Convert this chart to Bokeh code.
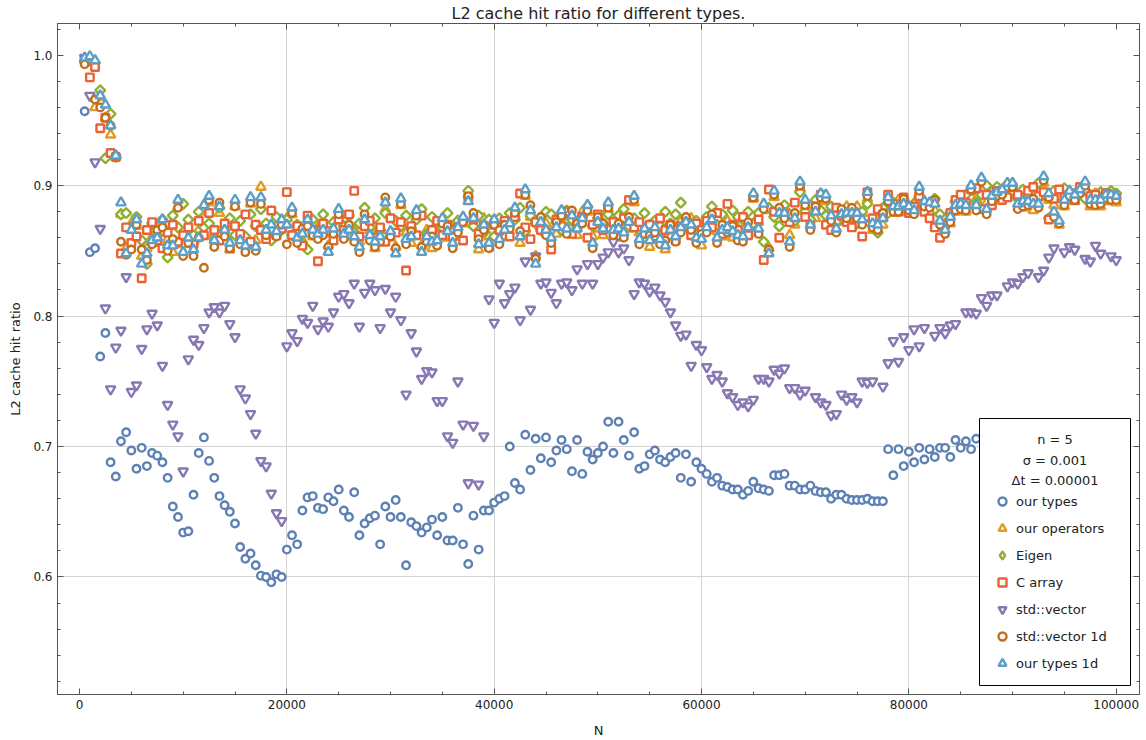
import math

from bokeh.plotting import figure
from bokeh.models import (Range1d, FixedTicker, LinearAxis, Legend, LegendItem,
                          BoxAnnotation, Label)
from bokeh.embed import file_html
from bokeh.resources import INLINE

nan = float("nan")

# problem sizes shared by every series
n_values = list(range(500, 100001, 500))

our_types = [
    0.957, 0.849, 0.852, 0.769, 0.787, 0.688, 0.677, 0.704, 0.711, 0.697,
    0.683, 0.699, 0.685, 0.695, 0.693, 0.688, 0.676, 0.654, 0.646, 0.634,
    0.635, 0.663, 0.695, 0.707, 0.689, 0.676, 0.662, 0.655, 0.650, 0.641,
    0.623, 0.614, 0.618, 0.609, 0.601, 0.600, 0.596, 0.602, 0.600, 0.621,
    0.632, 0.625, 0.651, 0.661, 0.662, 0.653, 0.652, 0.661, 0.658, 0.667,
    0.651, 0.646, 0.665, 0.632, 0.641, 0.645, 0.647, 0.625, 0.654, 0.646,
    0.659, 0.646, 0.609, 0.642, 0.639, 0.634, 0.638, 0.644, 0.632, 0.646,
    0.628, 0.628, 0.653, 0.625, 0.610, 0.647, 0.621, 0.651, 0.651, 0.657,
    0.660, 0.662, 0.700, 0.672, 0.667, 0.709, 0.682, 0.706, 0.691, 0.707,
    0.688, 0.697, 0.705, 0.698, 0.681, 0.705, 0.679, 0.696, 0.690, 0.695,
    0.700, 0.719, 0.695, 0.719, 0.705, 0.693, 0.711, 0.683, 0.685, 0.694,
    0.697, 0.690, 0.688, 0.692, 0.695, 0.676, 0.694, 0.673, 0.688, 0.683,
    0.679, 0.673, 0.676, 0.670, 0.669, 0.667, 0.667, 0.663, 0.666, 0.673,
    0.668, 0.667, 0.666, 0.678, 0.678, 0.679, 0.670, 0.670, 0.667, 0.667,
    0.670, 0.666, 0.665, 0.665, 0.660, 0.663, 0.663, 0.660, 0.659, 0.659,
    0.659, 0.660, 0.658, 0.658, 0.658, 0.698, 0.678, 0.698, 0.685, 0.696,
    0.688, 0.699, 0.690, 0.698, 0.692, 0.699, 0.699, 0.692, 0.705, 0.699,
    0.704, 0.698, 0.706,
]

our_operators = [
    0.996, 0.997, 0.960, 0.968, 0.952, 0.939, 0.922, 0.878, 0.852, 0.871,
    0.869, 0.846, 0.852, 0.861, 0.856, 0.870, 0.859, 0.849, 0.884, 0.855,
    0.864, 0.857, 0.866, 0.880, 0.887, 0.863, 0.879, 0.870, 0.851, 0.884,
    0.862, 0.858, 0.886, 0.858, 0.899, 0.870, 0.865, 0.869, 0.869, 0.875,
    0.878, 0.864, 0.858, 0.870, 0.861, 0.868, 0.870, 0.854, 0.863, 0.877,
    0.868, 0.861, 0.866, 0.857, 0.869, 0.866, 0.852, 0.866, 0.882, 0.860,
    0.853, 0.885, 0.864, 0.856, 0.876, 0.854, 0.866, 0.852, 0.862, 0.870,
    0.860, 0.861, 0.873, 0.871, 0.893, 0.870, 0.851, 0.875, 0.861, 0.869,
    0.864, 0.861, 0.876, 0.878, 0.856, 0.892, 0.876, 0.846, 0.867, 0.871,
    0.865, 0.863, 0.876, 0.872, 0.872, 0.862, 0.880, 0.880, 0.861, 0.867,
    0.862, 0.882, 0.871, 0.862, 0.869, 0.867, 0.887, 0.864, 0.862, 0.853,
    0.863, 0.864, 0.851, 0.861, 0.866, 0.873, 0.867, 0.875, 0.865, 0.854,
    0.873, 0.869, 0.865, 0.861, 0.873, 0.860, 0.867, 0.866, 0.863, 0.890,
    0.872, 0.881, 0.852, 0.891, 0.874, 0.884, 0.862, 0.870, 0.898, 0.884,
    0.875, 0.875, 0.889, 0.888, 0.882, 0.872, 0.873, 0.884, 0.874, 0.884,
    0.879, 0.890, 0.866, 0.875, 0.870, 0.886, 0.879, 0.889, 0.881, 0.879,
    0.886, 0.894, 0.883, 0.882, 0.881, 0.868, 0.871, 0.871, 0.880, 0.891,
    0.880, 0.895, 0.890, 0.901, 0.887, 0.887, 0.890, 0.892, 0.897, 0.897,
    0.891, 0.883, 0.893, 0.881, 0.891, 0.902, 0.889, 0.885, 0.870, 0.884,
    0.891, 0.888, 0.892, 0.898, 0.884, 0.894, 0.884, 0.888, 0.888, 0.887,
]

eigen = [
    0.995, 0.996, 0.994, 0.973, 0.921, 0.955, 0.922, 0.878, 0.879, 0.868,
    0.876, 0.858, 0.840, 0.871, 0.862, 0.874, 0.845, 0.877, 0.868, 0.886,
    0.874, 0.862, 0.880, 0.868, 0.871, 0.859, 0.883, 0.866, 0.875, 0.862,
    0.873, 0.861, 0.878, 0.869, 0.882, 0.871, 0.858, 0.876, 0.866, 0.874,
    0.862, 0.870, 0.856, 0.851, 0.874, 0.866, 0.878, 0.869, 0.872, 0.880,
    0.869, 0.877, 0.864, 0.871, 0.883, 0.868, 0.875, 0.866, 0.879, 0.862,
    0.873, 0.869, 0.877, 0.867, 0.874, 0.882, 0.863, 0.876, 0.870, 0.868,
    0.879, 0.866, 0.873, 0.874, 0.896, 0.869, 0.877, 0.865, 0.874, 0.861,
    0.875, 0.868, 0.879, 0.874, 0.883, 0.865, 0.877, 0.871, 0.866, 0.880,
    0.878, 0.872, 0.866, 0.881, 0.874, 0.868, 0.876, 0.884, 0.869, 0.875,
    0.871, 0.878, 0.870, 0.877, 0.882, 0.869, 0.875, 0.866, 0.879, 0.870,
    0.873, 0.869, 0.880, 0.871, 0.878, 0.887, 0.875, 0.866, 0.873, 0.868,
    0.876, 0.884, 0.870, 0.878, 0.868, 0.881, 0.876, 0.874, 0.880, 0.871,
    0.879, 0.857, 0.883, 0.876, 0.869, 0.885, 0.878, 0.873, 0.895, 0.880,
    0.874, 0.889, 0.881, 0.877, 0.884, 0.872, 0.880, 0.876, 0.882, 0.871,
    0.880, 0.886, 0.873, 0.864, 0.883, 0.879, 0.887, 0.884, 0.889, 0.882,
    0.886, 0.891, 0.884, 0.879, 0.890, 0.878, 0.870, 0.879, 0.888, 0.884,
    0.893, 0.897, 0.887, 0.893, 0.900, 0.895, 0.899, 0.890, 0.901, 0.896,
    0.891, 0.897, 0.893, 0.888, 0.902, 0.893, 0.875, 0.896, 0.892, 0.898,
    0.895, 0.894, 0.897, 0.890, 0.893, 0.891, 0.895, 0.894, 0.896, 0.894,
]

c_array = [
    0.997, 0.983, 0.991, 0.944, 0.952, 0.925, 0.922, 0.848, 0.868, 0.856,
    0.861, 0.829, 0.866, 0.872, 0.858, 0.852, 0.864, 0.870, 0.857, 0.862,
    0.868, 0.855, 0.873, 0.862, 0.879, 0.866, 0.858, 0.871, 0.852, 0.869,
    0.863, 0.878, 0.857, 0.870, 0.866, 0.859, 0.881, 0.862, 0.867, 0.895,
    0.862, 0.869, 0.854, 0.877, 0.866, 0.842, 0.871, 0.865, 0.858, 0.874,
    0.866, 0.878, 0.896, 0.861, 0.869, 0.873, 0.860, 0.868, 0.857, 0.875,
    0.864, 0.872, 0.835, 0.869, 0.862, 0.877, 0.859, 0.866, 0.873, 0.862,
    0.870, 0.861, 0.868, 0.858, 0.891, 0.874, 0.863, 0.869, 0.853, 0.871,
    0.866, 0.873, 0.861, 0.876, 0.894, 0.868, 0.859, 0.872, 0.866, 0.864,
    0.851, 0.874, 0.869, 0.880, 0.863, 0.872, 0.876, 0.860, 0.870, 0.878,
    0.866, 0.884, 0.872, 0.861, 0.875, 0.889, 0.868, 0.872, 0.864, 0.870,
    0.861, 0.875, 0.866, 0.870, 0.858, 0.869, 0.874, 0.862, 0.871, 0.866,
    0.873, 0.868, 0.879, 0.863, 0.886, 0.870, 0.866, 0.876, 0.862, 0.891,
    0.874, 0.843, 0.897, 0.880, 0.860, 0.878, 0.872, 0.887, 0.900, 0.876,
    0.869, 0.884, 0.893, 0.870, 0.866, 0.883, 0.877, 0.872, 0.868, 0.875,
    0.861, 0.895, 0.875, 0.882, 0.878, 0.893, 0.886, 0.880, 0.891, 0.879,
    0.884, 0.892, 0.880, 0.875, 0.868, 0.860, 0.870, 0.879, 0.889, 0.893,
    0.887, 0.897, 0.898, 0.882, 0.893, 0.885, 0.896, 0.889, 0.891, 0.899,
    0.893, 0.887, 0.896, 0.899, 0.892, 0.895, 0.874, 0.890, 0.897, 0.891,
    0.893, 0.889, 0.899, 0.896, 0.892, 0.893, 0.889, 0.894, 0.891, 0.890,
]

std_vector = [
    0.998, 0.969, 0.918, 0.867, 0.806, 0.744, 0.776, 0.789, 0.830, 0.742,
    0.747, 0.775, 0.790, 0.802, 0.793, 0.762, 0.732, 0.717, 0.708, 0.681,
    0.767, 0.782, 0.778, 0.791, 0.803, 0.807, 0.803, 0.808, 0.794, 0.784,
    0.744, 0.737, 0.725, 0.710, 0.689, 0.685, 0.664, 0.649, 0.643, 0.777,
    0.787, 0.781, 0.798, 0.795, 0.808, 0.790, 0.796, 0.792, 0.803, 0.815,
    0.817, 0.810, 0.825, 0.792, 0.818, 0.825, 0.820, 0.791, 0.821, 0.803,
    0.815, 0.797, 0.740, 0.787, 0.773, 0.752, 0.758, 0.757, 0.735, 0.735,
    0.708, 0.703, 0.750, 0.717, 0.672, 0.716, 0.671, 0.708, 0.813, 0.795,
    0.825, 0.810, 0.817, 0.822, 0.797, 0.842, 0.805, 0.846, 0.825, 0.826,
    0.818, 0.810, 0.825, 0.826, 0.820, 0.836, 0.825, 0.840, 0.825, 0.840,
    0.845, 0.849, 0.857, 0.849, 0.852, 0.843, 0.817, 0.826, 0.825, 0.819,
    0.822, 0.816, 0.811, 0.803, 0.793, 0.785, 0.786, 0.762, 0.778, 0.774,
    0.761, 0.752, 0.755, 0.750, 0.741, 0.738, 0.732, 0.734, 0.731, 0.736,
    0.752, 0.752, 0.750, 0.759, 0.756, 0.760, 0.745, 0.745, 0.740, 0.743,
    nan, 0.738, 0.734, 0.732, 0.724, 0.725, 0.740, 0.736, 0.738, 0.734,
    0.750, 0.749, 0.750, nan, 0.746, 0.764, 0.781, 0.765, 0.784, 0.774,
    0.790, 0.777, 0.791, nan, 0.785, 0.791, 0.787, 0.793, 0.794, nan,
    0.803, 0.803, 0.802, 0.814, 0.808, 0.816, 0.816, nan, 0.823, 0.826,
    0.825, 0.830, 0.833, nan, 0.830, 0.835, 0.845, 0.852, nan, 0.849,
    0.853, 0.851, nan, 0.844, 0.842, 0.854, 0.848, nan, 0.846, 0.843,
]

std_vector_1d = [
    0.993, 0.997, 0.966, 0.960, 0.952, 0.946, 0.923, 0.857, 0.847, 0.851,
    0.870, 0.851, 0.843, 0.855, 0.866, 0.868, 0.850, 0.859, 0.883, 0.846,
    0.856, 0.846, 0.860, 0.837, 0.889, 0.853, 0.887, 0.861, 0.852, 0.884,
    0.855, 0.849, 0.887, 0.850, 0.886, 0.862, 0.866, 0.861, 0.870, 0.855,
    0.879, 0.856, 0.867, 0.869, 0.862, 0.859, 0.862, 0.853, 0.863, 0.878,
    0.859, 0.870, 0.857, 0.849, 0.878, 0.858, 0.853, 0.857, 0.891, 0.861,
    0.852, 0.886, 0.855, 0.865, 0.877, 0.853, 0.857, 0.861, 0.854, 0.871,
    0.869, 0.852, 0.864, 0.872, 0.892, 0.879, 0.859, 0.866, 0.852, 0.870,
    0.855, 0.870, 0.867, 0.879, 0.865, 0.893, 0.885, 0.844, 0.876, 0.862,
    0.856, 0.872, 0.877, 0.863, 0.881, 0.871, 0.871, 0.881, 0.852, 0.876,
    0.871, 0.883, 0.862, 0.871, 0.860, 0.876, 0.889, 0.855, 0.863, 0.862,
    0.864, 0.855, 0.858, 0.870, 0.857, 0.864, 0.876, 0.866, 0.856, 0.863,
    0.864, 0.878, 0.856, 0.870, 0.864, 0.869, 0.858, 0.857, 0.872, 0.891,
    0.863, 0.882, 0.851, 0.893, 0.883, 0.875, 0.853, 0.879, 0.900, 0.885,
    0.866, 0.884, 0.891, 0.890, 0.873, 0.864, 0.882, 0.875, 0.883, 0.875,
    0.870, 0.892, 0.868, 0.866, 0.879, 0.888, 0.880, 0.880, 0.890, 0.881,
    0.878, 0.896, 0.884, 0.883, 0.889, 0.870, 0.863, 0.872, 0.881, 0.882,
    0.881, 0.897, 0.881, 0.903, 0.878, 0.888, 0.892, 0.893, 0.899, 0.899,
    0.882, 0.884, 0.885, 0.890, 0.883, 0.904, 0.891, 0.876, 0.871, 0.885,
    0.892, 0.889, 0.894, 0.900, 0.886, 0.885, 0.886, 0.890, 0.889, 0.889,
]

our_types_1d = [
    0.998, 0.999, 0.996, 0.969, 0.962, 0.946, 0.923, 0.887, 0.848, 0.866,
    0.874, 0.840, 0.848, 0.858, 0.860, 0.874, 0.854, 0.854, 0.889, 0.849,
    0.860, 0.851, 0.860, 0.885, 0.892, 0.858, 0.884, 0.866, 0.856, 0.889,
    0.858, 0.854, 0.891, 0.853, 0.891, 0.866, 0.870, 0.865, 0.874, 0.870,
    0.883, 0.860, 0.863, 0.874, 0.866, 0.863, 0.866, 0.849, 0.867, 0.882,
    0.863, 0.866, 0.861, 0.853, 0.874, 0.862, 0.857, 0.861, 0.887, 0.865,
    0.848, 0.890, 0.859, 0.861, 0.881, 0.849, 0.861, 0.857, 0.858, 0.875,
    0.865, 0.856, 0.868, 0.876, 0.888, 0.875, 0.855, 0.870, 0.856, 0.874,
    0.859, 0.866, 0.871, 0.883, 0.861, 0.897, 0.881, 0.840, 0.872, 0.866,
    0.860, 0.868, 0.881, 0.867, 0.877, 0.867, 0.875, 0.885, 0.856, 0.872,
    0.867, 0.887, 0.866, 0.867, 0.864, 0.872, 0.892, 0.859, 0.867, 0.858,
    0.868, 0.859, 0.854, 0.866, 0.861, 0.868, 0.872, 0.870, 0.860, 0.859,
    0.868, 0.874, 0.860, 0.866, 0.868, 0.865, 0.862, 0.861, 0.868, 0.894,
    0.867, 0.886, 0.848, 0.896, 0.879, 0.879, 0.857, 0.875, 0.903, 0.889,
    0.870, 0.880, 0.894, 0.893, 0.877, 0.867, 0.878, 0.879, 0.879, 0.879,
    0.874, 0.895, 0.871, 0.870, 0.875, 0.891, 0.884, 0.884, 0.886, 0.884,
    0.881, 0.899, 0.888, 0.887, 0.886, 0.873, 0.866, 0.876, 0.885, 0.886,
    0.885, 0.900, 0.885, 0.906, 0.882, 0.892, 0.895, 0.897, 0.902, 0.902,
    0.886, 0.888, 0.888, 0.886, 0.886, 0.907, 0.894, 0.880, 0.873, 0.889,
    0.896, 0.893, 0.897, 0.903, 0.889, 0.889, 0.889, 0.893, 0.893, 0.892,
]

x_major = [0, 20000, 40000, 60000, 80000, 100000]
x_minor = list(range(0, 100001, 5000))
y_major = [0.6, 0.7, 0.8, 0.9, 1.0]
y_minor = [round(0.52 + 0.02 * i, 2) for i in range(26)]
x_grid = [20000, 40000, 60000, 80000]
y_grid = [0.6, 0.7, 0.8, 0.9]

legend_header = ["n = 5", "σ = 0.001", "Δt = 0.00001"]

FONT = "DejaVu Sans"
FRAME = "#555555"
TEXT = "#222222"

# label, values, marker, colour, size, angle, marker used for the legend key
series = [
    ("our types", our_types, "circle", "#5E81B5", 7.5, 0.0, "circle"),
    ("our operators", our_operators, "triangle", "#E19C24", 9.5, 0.0, "triangle"),
    ("Eigen", eigen, "square", "#8FB032", 7, math.pi / 4, "diamond"),
    ("C array", c_array, "square", "#EB6235", 7.5, 0.0, "square"),
    ("std::vector", std_vector, "inverted_triangle", "#8778B3", 9.5, 0.0, "inverted_triangle"),
    ("std::vector 1d", std_vector_1d, "circle", "#C56E1A", 7.5, 0.0, "circle"),
    ("our types 1d", our_types_1d, "triangle", "#5D9EC7", 9.5, 0.0, "triangle"),
]

p = figure(
    width=1146, height=740, output_backend="svg", toolbar_location=None,
    x_range=Range1d(-2122, 102247), y_range=Range1d(0.5099, 1.0243),
    min_border_left=57, min_border_right=7, min_border_top=23, min_border_bottom=45,
    background_fill_color="white", border_fill_color="white",
)

p.title.text = "L2 cache hit ratio for different types."
p.title.align = "center"
p.title.text_font = FONT
p.title.text_font_size = "16px"
p.title.text_font_style = "normal"
p.title.text_color = TEXT
p.title.standoff = 1

x_ticker = FixedTicker(ticks=x_major, minor_ticks=x_minor)
y_ticker = FixedTicker(ticks=y_major, minor_ticks=y_minor)


def style_axis(ax, show_labels):
    ax.axis_line_color = FRAME
    ax.major_tick_line_color = FRAME
    ax.minor_tick_line_color = FRAME
    ax.major_tick_in = 6
    ax.major_tick_out = 0
    ax.minor_tick_in = 3
    ax.minor_tick_out = 0
    ax.major_label_text_font = FONT
    if show_labels:
        ax.major_label_text_color = TEXT
        ax.major_label_text_font_size = "12px"
        ax.major_label_standoff = 5
    else:
        # mirrored frame side: ticks only
        ax.major_label_text_color = None
        ax.major_label_text_font_size = "1px"
        ax.major_label_standoff = 0


xa = p.xaxis[0]
xa.ticker = x_ticker
style_axis(xa, True)
xa.major_label_overrides = {t: str(t) for t in x_major}
xa.axis_label = "N"
xa.axis_label_text_font = FONT
xa.axis_label_text_font_size = "13px"
xa.axis_label_text_font_style = "normal"
xa.axis_label_text_color = TEXT
xa.axis_label_standoff = 11

ya = p.yaxis[0]
ya.ticker = y_ticker
style_axis(ya, True)
ya.major_label_overrides = {t: f"{t:.1f}" for t in y_major}
ya.axis_label = "L2 cache hit ratio"
ya.axis_label_text_font = FONT
ya.axis_label_text_font_size = "13px"
ya.axis_label_text_font_style = "normal"
ya.axis_label_text_color = TEXT
ya.axis_label_standoff = 7

top_axis = LinearAxis(ticker=x_ticker)
style_axis(top_axis, False)
p.add_layout(top_axis, "above")

right_axis = LinearAxis(ticker=y_ticker)
style_axis(right_axis, False)
p.add_layout(right_axis, "right")

p.outline_line_color = FRAME
p.xgrid.ticker = FixedTicker(ticks=x_grid)
p.ygrid.ticker = FixedTicker(ticks=y_grid)
p.xgrid.grid_line_color = "#d4d4d4"
p.ygrid.grid_line_color = "#d4d4d4"

items = []
for label, values, marker, color, size, angle, key_marker in series:
    r = p.scatter(
        n_values[:len(values)], values, marker=marker, size=size, angle=angle,
        line_color=color, line_width=2.4, fill_color="white",
    )
    key = r
    if key_marker != marker:
        # legend key drawn with an unrotated glyph of the same shape
        key = p.scatter([nan], [nan], marker=key_marker, size=size,
                        line_color=color, line_width=2.4, fill_color="white")
    items.append(LegendItem(label=label, renderers=[key]))

# legend panel: framed box, centred header lines, then the keyed entries
panel = BoxAnnotation(
    left=922, right=1073, bottom=9, top=276,
    left_units="screen", right_units="screen", bottom_units="screen", top_units="screen",
    fill_color="white", fill_alpha=1.0, line_color="black", line_width=1, line_alpha=1.0,
    level="annotation",
)
p.add_layout(panel)

for i, line in enumerate(legend_header):
    p.add_layout(Label(
        x=997.5, y=255 - 20.5 * i, x_units="screen", y_units="screen", text=line,
        text_align="center", text_baseline="middle", text_font=FONT,
        text_font_size="13px", text_color=TEXT,
    ))

legend = Legend(
    items=items, location=(935, 21), orientation="vertical",
    label_text_font=FONT, label_text_font_size="13px", label_text_color=TEXT,
    label_standoff=4, label_height=20, label_width=100,
    glyph_width=20, glyph_height=20, spacing=7, padding=13, margin=0,
    border_line_color=None, background_fill_alpha=0.0,
)
p.add_layout(legend)

open("out.html", "w").write(file_html(p, INLINE))
